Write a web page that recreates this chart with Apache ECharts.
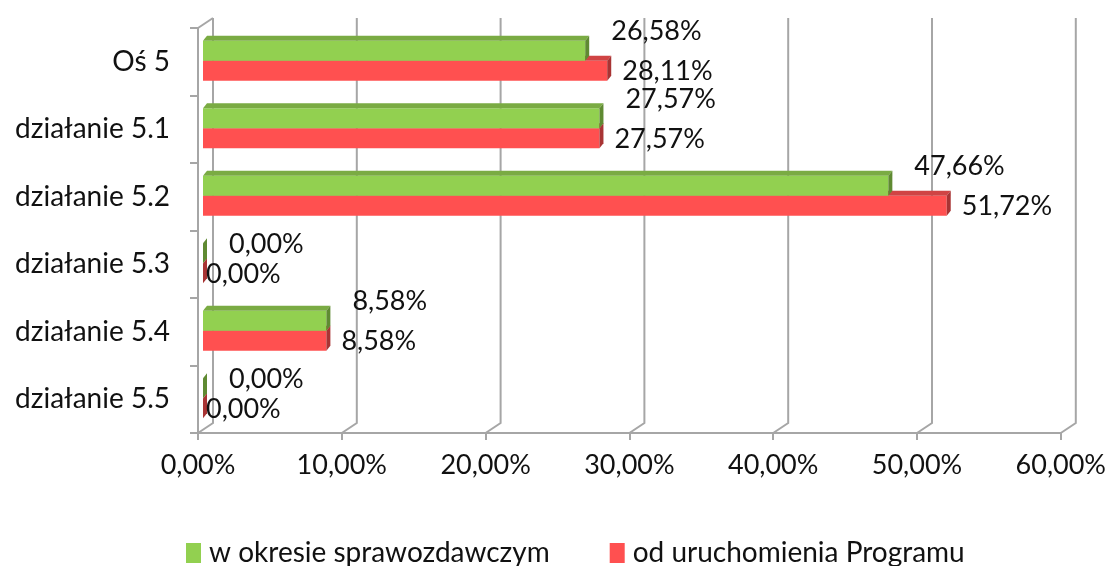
<!DOCTYPE html>
<html>
<head>
<meta charset="utf-8">
<script src="https://cdn.jsdelivr.net/npm/echarts@6/dist/echarts.min.js"></script>
<style>
    html, body { margin: 0; padding: 0; background: #fff; }
    #chart { width: 1109px; height: 566px; }
</style>
</head>
<body>
<div id="chart"></div>
<script>
"use strict";

const categories = ['Oś 5', 'działanie 5.1', 'działanie 5.2', 'działanie 5.3', 'działanie 5.4', 'działanie 5.5'];
const reportPeriod = [26.58, 27.57, 47.66, 0.00, 8.58, 0.00];
const sinceLaunch = [28.11, 27.57, 51.72, 0.00, 8.58, 0.00];
const xTicks = [0, 10, 20, 30, 40, 50, 60];
const seriesNames = ['w okresie sprawozdawczym', 'od uruchomienia Programu'];

const FONT = 'Lato';
const TEXT = '#111';
const GRID_COLOR = '#a6a6a6';

const fmt = v => v.toFixed(2).replace('.', ',') + '%';

// back wall offset of the 3D box
const WALL_DX = 15, WALL_DY = -10;
// bar depth
const BAR_DX = 4, BAR_DY = -5, BAR_SHIFT_X = 5;

const shades = {
    green: { front: '#92d050', top: '#7aab43', side: '#5f8a32' },
    red: { front: '#ff5050', top: '#d04444', side: '#a83434' }
};

function barRenderer(shade, upper) {
    return function(params, api) {
        const val = api.value(0);
        const cat = api.value(1);
        const end = api.coord([val, cat]);
        const start = api.coord([0, cat]);
        const band = api.size([0, 1])[1];
        const barH = band * 0.296;
        const cy = end[1] - 1;
        const yTop = upper ? cy - barH : cy;
        const x0 = start[0] + BAR_SHIFT_X;
        const x1 = end[0] + BAR_SHIFT_X;

        let lx, ly;
        if (upper) {
            lx = x1 + 26;
            ly = yTop + barH / 2 - (val === 0 ? 9 : 19);
        } else {
            lx = x1 + (val === 0 ? 3 : 15);
            ly = yTop + barH / 2 + 1;
        }

        return {
            type: 'group',
            children: [
                {
                    type: 'rect',
                    shape: { x: x0, y: yTop, width: Math.max(x1 - x0, 0), height: barH },
                    style: { fill: shade.front }
                },
                {
                    type: 'polygon',
                    shape: { points: [[x0, yTop], [x1, yTop], [x1 + BAR_DX, yTop + BAR_DY], [x0 + BAR_DX, yTop + BAR_DY]] },
                    style: { fill: shade.top }
                },
                {
                    type: 'polygon',
                    shape: { points: [[x1, yTop], [x1 + BAR_DX, yTop + BAR_DY], [x1 + BAR_DX, yTop + barH + BAR_DY], [x1, yTop + barH]] },
                    style: { fill: shade.side }
                },
                {
                    type: 'text',
                    x: lx,
                    y: ly,
                    style: {
                        text: fmt(val),
                        fill: TEXT,
                        fontSize: 27,
                        fontFamily: FONT,
                        align: 'left',
                        verticalAlign: 'middle'
                    }
                }
            ]
        };
    };
}

function wallRenderer(params, api) {
    const x = api.coord([api.value(0), 0])[0];
    const cs = params.coordSys;
    const top = cs.y, bottom = cs.y + cs.height;
    const pts = [[x + WALL_DX, top + WALL_DY], [x + WALL_DX, bottom + WALL_DY], [x, bottom]];
    const children = [{
        type: 'polyline',
        shape: { points: pts },
        style: { stroke: GRID_COLOR, lineWidth: 2, fill: null }
    }];
    if (params.dataIndex === 0) {
        children.push({
            type: 'line',
            shape: { x1: x, y1: top, x2: x + WALL_DX, y2: top + WALL_DY },
            style: { stroke: GRID_COLOR, lineWidth: 2 }
        });
    }
    return { type: 'group', children: children };
}

const chart = echarts.init(document.getElementById('chart'), null, { renderer: 'canvas' });

const option = {
    animation: false,
    backgroundColor: '#fff',
    textStyle: { fontFamily: FONT, color: TEXT },
    grid: { left: 198, right: 47, top: 28, bottom: 133 },
    xAxis: {
        type: 'value',
        min: 0,
        max: 60,
        interval: 10,
        axisLine: { show: true, lineStyle: { color: GRID_COLOR, width: 2 } },
        axisTick: { show: true, length: 7, lineStyle: { color: GRID_COLOR, width: 2 } },
        splitLine: { show: false },
        axisLabel: {
            formatter: fmt,
            fontSize: 27,
            fontFamily: FONT,
            color: TEXT,
            margin: 19
        }
    },
    yAxis: {
        type: 'category',
        inverse: true,
        data: categories,
        axisLine: { show: true, lineStyle: { color: GRID_COLOR, width: 2 } },
        axisTick: { show: true, length: 8, lineStyle: { color: GRID_COLOR, width: 2 } },
        axisLabel: {
            fontSize: 28,
            fontFamily: FONT,
            color: TEXT,
            margin: 28,
            padding: [10, 0, 0, 0]
        }
    },
    legend: {
        data: seriesNames,
        left: 181,
        top: 534,
        icon: 'rect',
        itemWidth: 15,
        itemHeight: 20,
        itemGap: 60,
        textStyle: { fontSize: 28, fontFamily: FONT, color: TEXT, padding: [0, 0, 0, 3] }
    },
    series: [
        {
            name: 'wall',
            type: 'custom',
            silent: true,
            z: 1,
            data: xTicks.map(v => [v, 0]),
            renderItem: wallRenderer
        },
        {
            name: seriesNames[0],
            type: 'custom',
            z: 4,
            itemStyle: { color: shades.green.front },
            data: reportPeriod.map((v, i) => [v, i]),
            encode: { x: 0, y: 1 },
            renderItem: barRenderer(shades.green, true)
        },
        {
            name: seriesNames[1],
            type: 'custom',
            z: 3,
            itemStyle: { color: shades.red.front },
            data: sinceLaunch.map((v, i) => [v, i]),
            encode: { x: 0, y: 1 },
            renderItem: barRenderer(shades.red, false)
        }
    ]
};

chart.setOption(option);
</script>
</body>
</html>
